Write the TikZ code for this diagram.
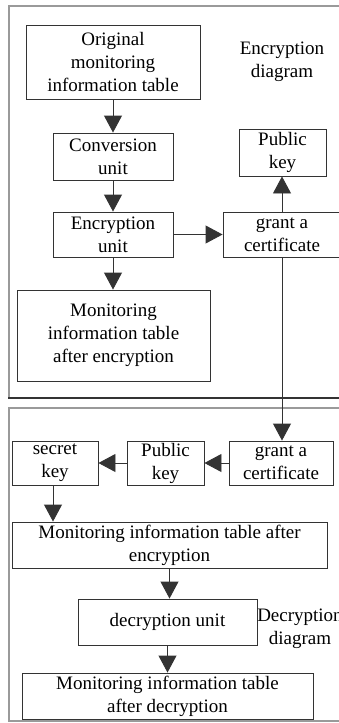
\documentclass[tikz,border=0pt]{standalone}
\usepackage{fontspec}
\setmainfont{Liberation Serif}
\usetikzlibrary{arrows.meta}
\definecolor{boxline}{HTML}{333333}
\definecolor{panelgray}{HTML}{9A9A9A}
\tikzset{
  box/.style={draw=boxline, line width=0.9pt, rectangle, inner sep=0pt, align=center,
    font=\fontsize{19}{23}\selectfont, text=black},
  lbl/.style={inner sep=0pt, align=center, font=\fontsize{19}{23}\selectfont},
  conn/.style={draw=boxline, line width=0.9pt, -{Triangle[width=18pt,length=17pt]}},
  plain/.style={draw=boxline, line width=0.9pt},
  panel/.style={draw=panelgray, line width=1.6pt},
}
\begin{document}
\begin{tikzpicture}[x=1pt,y=-1pt]
\useasboundingbox (0,0) rectangle (339,723);
\clip (0,0) rectangle (339,723);
\fill[white] (0,0) rectangle (339,723);
% panels
\draw[panel] (9,398) -- (9,6) -- (350,6);
\draw[draw=boxline, line width=1.2pt] (8.2,398) -- (350,398);
\draw[panel] (350,721) -- (9,721) -- (9,408) -- (350,408);
% encryption part
\node[box, minimum width=174pt, minimum height=74pt] (orig) at (113,62) {Original\\monitoring\\information table};
\node[box, minimum width=120pt, minimum height=47pt] (conv) at (113,156.5) {Conversion\\unit};
\node[box, minimum width=120pt, minimum height=45pt] (enc) at (113,234.5) {Encryption\\unit};
\node[box, minimum width=87pt, minimum height=47pt] (pk1) at (282.5,152.5) {Public\\key};
\node[box, minimum width=118pt, minimum height=45pt] (gr1) at (282,234.5) {grant a\\certificate};
\node[box, minimum width=193pt, minimum height=91pt] (mon1) at (113.5,335.5) {Monitoring\\information table\\after encryption};
\node[lbl] (encl) at (282,61.5) {Encryption\\diagram};
% decryption part
\node[box, minimum width=104pt, minimum height=44pt] (gr2) at (281,463) {grant a\\certificate};
\node[box, minimum width=77pt, minimum height=44pt] (pk2) at (165.5,463) {Public\\key};
\node[box, minimum width=86pt, minimum height=44pt] (sk) at (55,463) {secret\\key};
\node[box, minimum width=315pt, minimum height=46pt] (mon2) at (169.5,545) {Monitoring information table after\\encryption};
\node[box, minimum width=179pt, minimum height=46pt] (dec) at (167.5,622) {decryption unit};
\node[box, minimum width=291pt, minimum height=46pt] (mon3) at (167.5,696) {Monitoring information table\\after decryption};
\node[lbl] (decl) at (300,628.5) {Decryption\\diagram};
% connectors
\draw[conn] (orig.south) -- (conv.north);
\draw[conn] (conv.south) -- (enc.north);
\draw[conn] (enc.east) -- (gr1.west);
\draw[conn] (gr1.north) -- (gr1.north |- pk1.south);
\draw[conn] (enc.south) -- (enc.south |- mon1.north);
\draw[conn] (gr1.south) -- (gr1.south |- gr2.north);
\draw[conn] (gr2.west) -- (pk2.east);
\draw[conn] (pk2.west) -- (sk.east);
\draw[conn] ([xshift=-2pt]sk.south) -- ([xshift=-2pt]sk.south |- mon2.north);
\draw[conn] (mon2.south) -- (mon2.south |- dec.north);
\draw[conn] (dec.south) -- (dec.south |- mon3.north);
\end{tikzpicture}
\end{document}
